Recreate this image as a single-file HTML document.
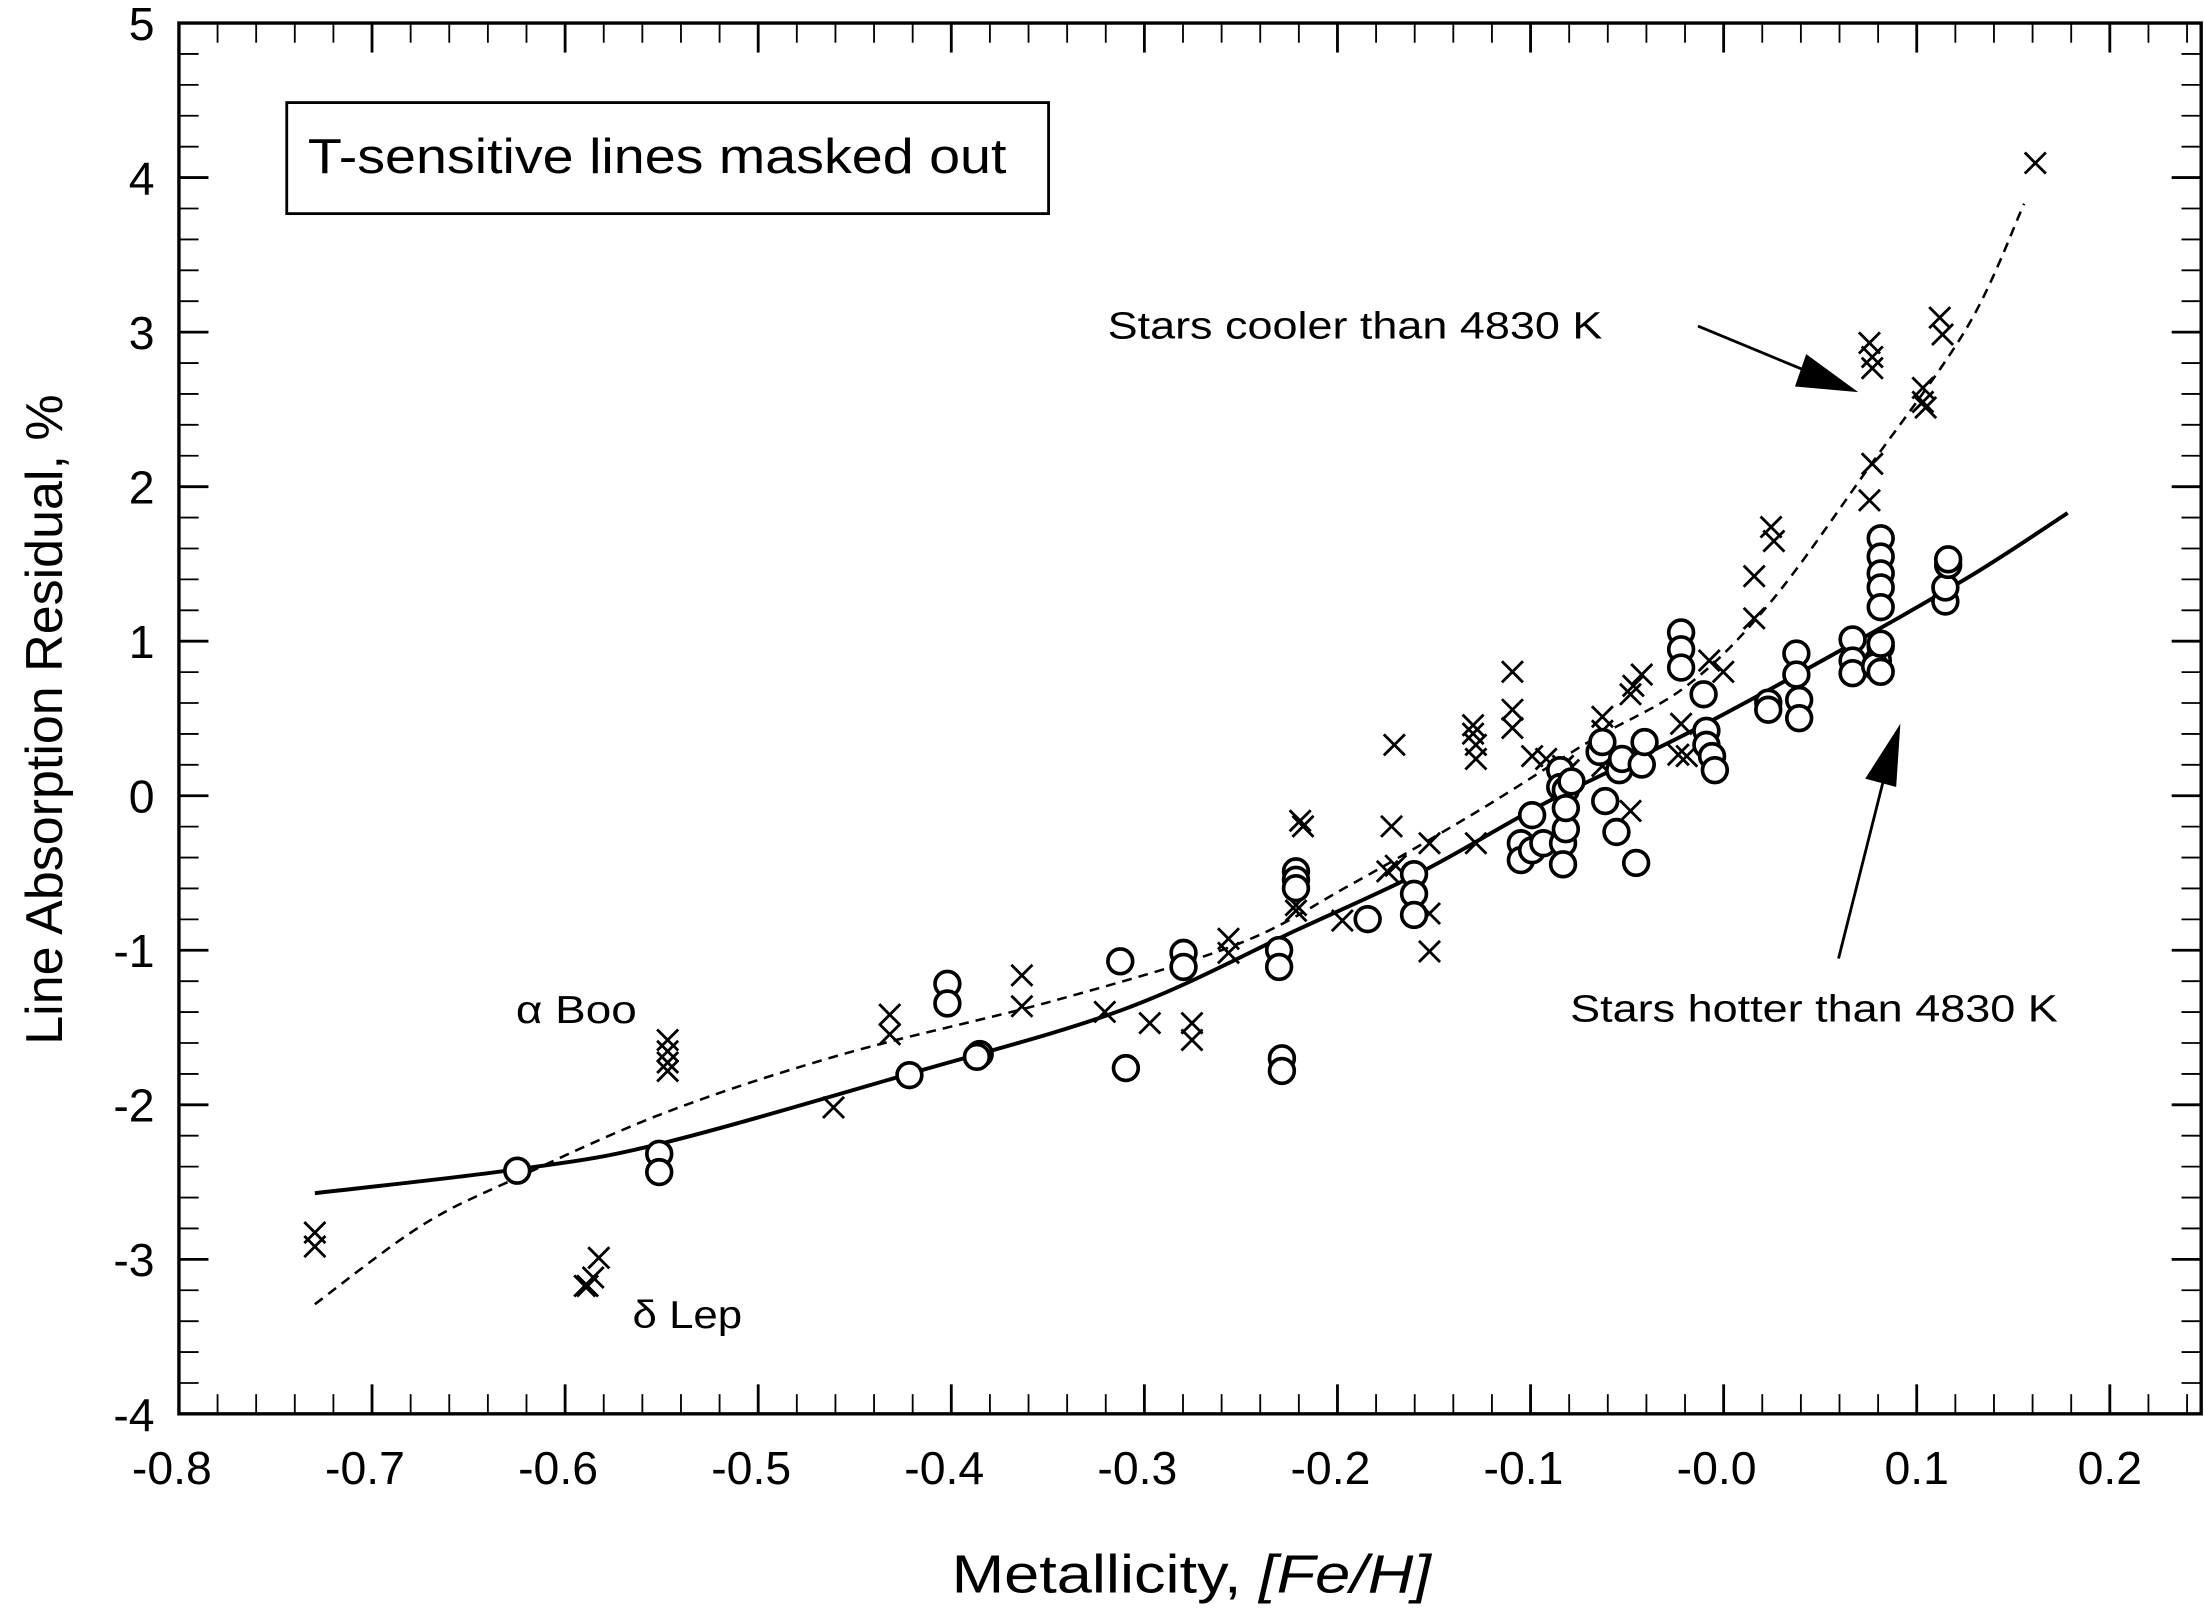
<!DOCTYPE html>
<html><head><meta charset="utf-8"><style>
html,body{margin:0;padding:0;background:#fff;}
svg{display:block;}
text{font-family:"Liberation Sans",sans-serif;fill:#000;}
</style></head><body>
<svg width="2204" height="1612" viewBox="0 0 1568 1147" preserveAspectRatio="none" xmlns="http://www.w3.org/2000/svg">
<defs>
<g id="x"><path d="M-7.5,-7.5L7.5,7.5M-7.5,7.5L7.5,-7.5" stroke="#000" stroke-width="2" fill="none"/></g>
<g id="o"><circle r="8.8" fill="#fff" stroke="#000" stroke-width="2.6"/></g>
</defs>
<rect x="127.3" y="16.4" width="1438.7" height="989.6" fill="none" stroke="#000" stroke-width="2.4"/>
<g id="ticks" stroke="#000" stroke-width="1.3"></g>
<g font-size="33" text-anchor="end" id="ylab"></g>
<g font-size="33" text-anchor="middle" id="xlab"></g>
<text x="677" y="1133" font-size="38" textLength="341" lengthAdjust="spacingAndGlyphs">Metallicity,  <tspan font-style="italic">[Fe/H]</tspan></text>
<text transform="translate(44,512) rotate(-90)" font-size="37" text-anchor="middle">Line Absorption Residual, %</text>
<rect x="204" y="73" width="542" height="79" fill="#fff" stroke="#000" stroke-width="2"/>
<text x="219" y="123" font-size="35" textLength="497" lengthAdjust="spacingAndGlyphs">T-sensitive lines masked out</text>
<text x="788" y="241" font-size="27" textLength="352" lengthAdjust="spacingAndGlyphs">Stars cooler than 4830 K</text>
<text x="1117" y="727" font-size="27" textLength="347" lengthAdjust="spacingAndGlyphs">Stars hotter than 4830 K</text>
<text x="367" y="728" font-size="28" textLength="86" lengthAdjust="spacingAndGlyphs">α Boo</text>
<text x="450" y="945" font-size="28" textLength="78" lengthAdjust="spacingAndGlyphs">δ Lep</text>
<line x1="1208" y1="232" x2="1290" y2="266" stroke="#000" stroke-width="2"/>
<polygon points="1322,279 1277,275 1285,252" fill="#000"/>
<line x1="1308" y1="682" x2="1340" y2="555" stroke="#000" stroke-width="2"/>
<polygon points="1352,515 1349,560 1327,554" fill="#000"/>
<path id="solid" fill="none" stroke="#000" stroke-width="2.8"/>
<path id="dash" fill="none" stroke="#000" stroke-width="1.8" stroke-dasharray="7,5"/>
<g id="pts"></g>
</svg>
<script>
var ns="http://www.w3.org/2000/svg";
function el(t,a,p,txt){var e=document.createElementNS(ns,t);for(var k in a)e.setAttribute(k,a[k]);if(txt!==undefined)e.textContent=txt;p.appendChild(e);return e;}
var L=127.3,R=1566,T=16.4,B=1006;
function X(v){return L+(v+0.8)*1373.7;}
function Y(v){return T+(5-v)*109.96;}
var tk=document.getElementById('ticks');
for(var i=0;i<=52;i++){var v=-0.8+i*0.02;var x=X(v);if(x>R)break;var maj=(i%5==0);var l=maj?21:14;
el('line',{x1:x,y1:B,x2:x,y2:B-l,'stroke-width':maj?2:1.3},tk);el('line',{x1:x,y1:T,x2:x,y2:T+l,'stroke-width':maj?2:1.3},tk);}
for(var i=0;i<=45;i++){var v=-4+i*0.2;var y=Y(v);var maj=(i%5==0);var l=maj?21:14;
el('line',{x1:L,y1:y,x2:L+l,y2:y,'stroke-width':maj?2:1.3},tk);el('line',{x1:R,y1:y,x2:R-l,y2:y,'stroke-width':maj?2:1.3},tk);}
var yl=document.getElementById('ylab');
for(var v=-4;v<=5;v++)el('text',{x:110,y:Y(v)+12},yl,String(v));
var xl=document.getElementById('xlab');
var xs=['-0.8','-0.7','-0.6','-0.5','-0.4','-0.3','-0.2','-0.1','-0.0','0.1','0.2'];
for(var i=0;i<xs.length;i++)el('text',{x:X(-0.8+i*0.1)+(xs[i][0]=='-'?-5:0),y:1056},xl,xs[i]);
function cr(P){var d='M'+P[0][0]+','+P[0][1];for(var i=0;i<P.length-1;i++){var p0=P[Math.max(0,i-1)],p1=P[i],p2=P[i+1],p3=P[Math.min(P.length-1,i+2)];
d+=' C'+(p1[0]+(p2[0]-p0[0])/6)+','+(p1[1]+(p2[1]-p0[1])/6)+' '+(p2[0]-(p3[0]-p1[0])/6)+','+(p2[1]-(p3[1]-p1[1])/6)+' '+p2[0]+','+p2[1];}return d;}
document.getElementById('solid').setAttribute('d',cr([[224,849],[368,832],[469,814],[647,764],[800,718],[922,662],[1012,620],[1100,571],[1200,522],[1300,468],[1400,411],[1471,365]]));
document.getElementById('dash').setAttribute('d',cr([[224,928],[300,872],[368,838],[475,791],[600,750],[750,712],[880,672],[960,630],[1050,578],[1130,528],[1200,488],[1260,428],[1330,332],[1400,232],[1440,145]]));
var pts=document.getElementById('pts');
var C=[[224,877],[224,887],[418,915],[422,909],[426,895],[416,915],[475,740],[475,748],[475,756],[475,762],[593,788],[633,722],[633,736],[727,694],[727,716],[786,720],[818,728],[848,728],[848,740],[874,668],[874,678],[925,584],[927,588],[922,644],[922,648],[955,655],[990,588],[992,530],[993,616],[987,620],[1017,600],[1017,677],[1017,650],[1048,516],[1048,522],[1050,530],[1050,540],[1050,600],[1076,478],[1076,505],[1076,518],[1090,538],[1100,540],[1112,545],[1116,548],[1140,510],[1140,520],[1140,545],[1160,577],[1162,488],[1168,480],[1160,494],[1194,537],[1196,515],[1200,538],[1216,470],[1226,478],[1248,410],[1248,440],[1260,375],[1262,385],[1332,330],[1330,356],[1330,244],[1332,254],[1332,262],[1368,276],[1368,286],[1370,290],[1380,226],[1382,238],[1448,116]];
C.forEach(function(p){el('use',{href:'#x',x:p[0],y:p[1]},pts);});
var O=[[368,833],[469,821],[469,834],[647,765],[697,750],[695,752],[674,700],[674,714],[797,684],[801,760],[842,678],[842,688],[910,676],[910,688],[912,753],[912,762],[922,620],[922,626],[922,632],[973,654],[1006,622],[1006,636],[1006,651],[1082,600],[1082,612],[1090,580],[1090,605],[1098,600],[1110,548],[1110,560],[1112,600],[1112,615],[1114,590],[1114,562],[1118,556],[1114,575],[1138,535],[1140,528],[1142,570],[1150,592],[1152,548],[1154,540],[1164,614],[1168,544],[1170,528],[1196,450],[1196,462],[1196,475],[1212,494],[1214,520],[1214,530],[1218,538],[1220,548],[1258,500],[1258,505],[1278,465],[1278,480],[1280,498],[1280,511],[1318,455],[1318,470],[1318,479],[1338,383],[1338,396],[1338,408],[1338,418],[1338,432],[1338,460],[1336,470],[1334,474],[1338,478],[1338,458],[1384,428],[1384,418],[1386,402],[1386,398]];
O.forEach(function(p){el('use',{href:'#o',x:p[0],y:p[1]},pts);});
</script>
</body></html>
